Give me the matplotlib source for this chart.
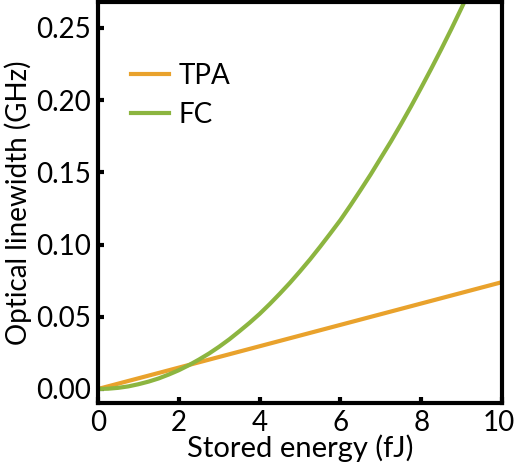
import matplotlib.pyplot as plt
import matplotlib.transforms as mtransforms

# values
energy_fc = [0, 0.25, 0.5, 0.75, 1, 1.25, 1.5, 1.75, 2, 2.25, 2.5, 2.75, 3, 3.25, 3.5,
             3.75, 4, 4.25, 4.5, 4.75, 5, 5.25, 5.5, 5.75, 6, 6.25, 6.5, 6.75, 7,
             7.25, 7.5, 7.75, 8, 8.25, 8.5, 8.75, 9, 9.25, 9.5]
fc = [0, 0.0002, 0.0008, 0.0018, 0.0033, 0.0051, 0.0073, 0.0100, 0.0130, 0.0165,
      0.0204, 0.0246, 0.0293, 0.0344, 0.0400, 0.0458, 0.0520, 0.0588, 0.0660, 0.0735,
      0.0815, 0.0898, 0.0986, 0.1077, 0.1170, 0.1272, 0.1378, 0.1486, 0.1600, 0.1714,
      0.1834, 0.1958, 0.2087, 0.2219, 0.2355, 0.2495, 0.2640, 0.2789, 0.2940]
energy_tpa = [0, 2, 4, 6, 8, 10]
tpa = [0, 0.0148, 0.0296, 0.0444, 0.0592, 0.074]

plt.rcParams['font.family'] = ['Lato', 'DejaVu Sans']

fig = plt.figure(figsize=(5.15, 4.76), dpi=100)
ax = fig.add_axes([98/515, 1 - 403/476, 404/515, 401/476])

ax.plot(energy_tpa, tpa, color='#E9A22C', lw=3, label='TPA')
ax.plot(energy_fc, fc, color='#8CB540', lw=3, label='FC')

ax.set_xlim(0, 10)
ax.set_ylim(-0.0097, 0.268)
ax.set_xticks([0, 2, 4, 6, 8, 10])
ax.set_yticks([0, 0.05, 0.10, 0.15, 0.20, 0.25])
ax.set_yticklabels(['0.00', '0.05', '0.10', '0.15', '0.20', '0.25'])
ax.tick_params(direction='in', length=4, width=3, labelsize=20, pad=5,
               top=False, right=False)
for s in ax.spines.values():
    s.set_linewidth(3)

# keep the "10" inside the canvas
last = ax.get_xticklabels()[-1]
last.set_transform(last.get_transform() +
                   mtransforms.ScaledTranslation(-3/100, 0, fig.dpi_scale_trans))

ax.set_xlabel('Stored energy (fJ)', fontsize=21, labelpad=-1)
ax.set_ylabel('Optical linewidth (GHz)', fontsize=20, labelpad=3)

ax.legend(loc='upper left', bbox_to_anchor=(0.02, 0.91), frameon=False,
          fontsize=20, handlelength=1.35, handletextpad=0.35, labelspacing=0.45)

fig.savefig('out.png', dpi=100)
